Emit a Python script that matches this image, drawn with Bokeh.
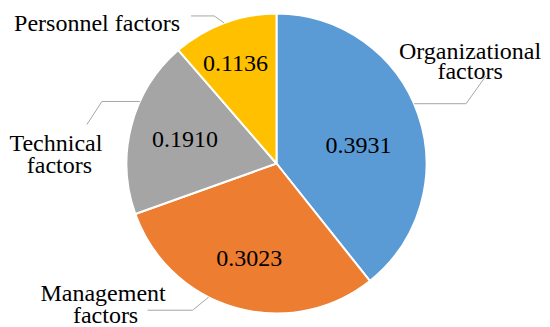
import math
from bokeh.plotting import figure
from bokeh.models import Range1d
from bokeh.core.properties import value
from bokeh.embed import file_html
from bokeh.resources import INLINE

# ---- data ----
categories = ["Organizational factors", "Management factors", "Technical factors", "Personnel factors"]
shares = [0.3931, 0.3023, 0.1910, 0.1136]
label_lines = [["Organizational", "factors"], ["Management", "factors"], ["Technical", "factors"], ["Personnel factors"]]
colors = ["#5B9BD5", "#ED7D31", "#A5A5A5", "#FFC000"]

# ---- layout (pixels, figure coordinates, y up) ----
W, H = 550, 327
CX, CY, R = 276, 164, 150
FONT = "Liberation Serif"
value_r_frac = [0.56, 0.66, 0.63, 0.72]
value_ang_nudge = [-6.85, 0.0, 0.0, 1.9]
leader_ang_nudge = [4.25, -11.0, -9.7, 0.0]
leader_offsets = [[(52, 0), (72, 28)], [(-16, -13), (-61, -13)],
                  [(-38, 0), (-53, -23)], [(-10, 7), (-33, 7)]]
text_offsets = [[(-16, 25), (-16, 5)], [(-44.5, 17), (-42, -5)],
                [(-31, -18.7), (-27.5, -41)], [(-94, -6.7)]]

p = figure(width=W, height=H, output_backend="svg", toolbar_location=None,
           x_range=Range1d(0, W), y_range=Range1d(0, H), min_border=0)
p.axis.visible = False
p.grid.visible = False
p.outline_line_color = None
p.background_fill_color = "white"
p.border_fill_color = "white"

starts, ends, mids = [], [], []
cum = 0.0
for s in shares:
    a0 = math.pi / 2 - 2 * math.pi * cum
    cum += s
    a1 = math.pi / 2 - 2 * math.pi * cum
    starts.append(a0)
    ends.append(a1)
    mids.append((a0 + a1) / 2)

p.wedge(x=CX, y=CY, radius=R, start_angle=starts, end_angle=ends, direction="clock",
        fill_color=colors, line_color="white", line_width=2)

# value labels
vx, vy, vt = [], [], []
for i, s in enumerate(shares):
    a = mids[i] + math.radians(value_ang_nudge[i])
    r = R * value_r_frac[i]
    vx.append(CX + r * math.cos(a))
    vy.append(CY + r * math.sin(a))
    vt.append(f"{s:.4f}")
p.text(x=vx, y=vy, text=vt, text_align="center", text_baseline="middle",
       text_font=value(FONT), text_font_size="24px", text_color="black")

# leader lines and category labels
tx, ty, tt = [], [], []
for i in range(len(shares)):
    a = mids[i] + math.radians(leader_ang_nudge[i])
    ex, ey = CX + R * math.cos(a), CY + R * math.sin(a)
    xs = [ex] + [ex + dx for dx, dy in leader_offsets[i]]
    ys = [ey] + [ey + dy for dx, dy in leader_offsets[i]]
    p.line(xs, ys, line_color="#A6A6A6", line_width=1)
    endx, endy = xs[-1], ys[-1]
    for line, (ox, oy) in zip(label_lines[i], text_offsets[i]):
        tx.append(endx + ox)
        ty.append(endy + oy)
        tt.append(line)
p.text(x=tx, y=ty, text=tt, text_align="center", text_baseline="alphabetic",
       text_font=value(FONT), text_font_size="24px", text_color="black")

open("out.html", "w").write(file_html(p, INLINE))
